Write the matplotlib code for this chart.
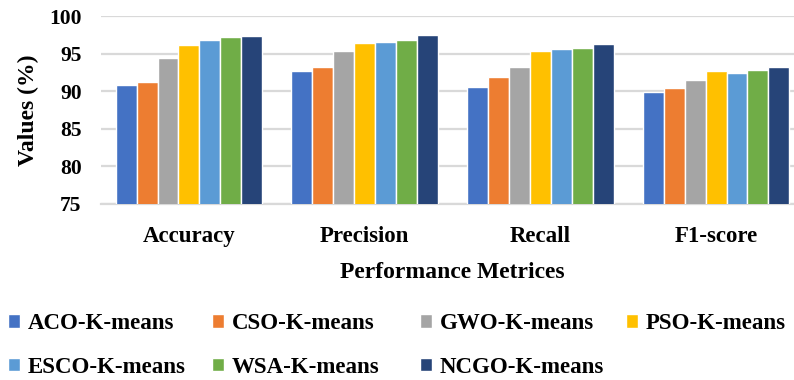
import matplotlib
matplotlib.use("Agg")
import matplotlib.pyplot as plt
import numpy as np

plt.rcParams["font.family"] = ["Liberation Serif", "DejaVu Serif"]
plt.rcParams["font.weight"] = "bold"

metrics = ["Accuracy", "Precision", "Recall", "F1-score"]
methods = ["ACO-K-means", "CSO-K-means", "GWO-K-means", "PSO-K-means",
           "ESCO-K-means", "WSA-K-means", "NCGO-K-means"]
aco = [90.8, 92.7, 90.6, 89.9]
cso = [91.3, 93.2, 91.9, 90.4]
gwo = [94.4, 95.4, 93.2, 91.5]
pso = [96.2, 96.5, 95.4, 92.7]
esco = [96.8, 96.6, 95.6, 92.5]
wsa = [97.2, 96.9, 95.8, 92.8]
ncgo = [97.4, 97.5, 96.3, 93.2]
series = [aco, cso, gwo, pso, esco, wsa, ncgo]
colors = ["#4472C4", "#ED7D31", "#A5A5A5", "#FFC000",
          "#5B9BD5", "#70AD47", "#264478"]
yticks = [75, 80, 85, 90, 95, 100]

fig = plt.figure(figsize=(7.94, 3.80), dpi=100)
# plot area runs slightly past the right edge of the canvas
ax = fig.add_axes([101 / 794, 1 - 204 / 380, 703 / 794, (204 - 16.3) / 380])

x = np.arange(len(metrics))
pitch = 0.119
bars = []
for i, (vals, col) in enumerate(zip(series, colors)):
    offs = (i - (len(series) - 1) / 2) * pitch
    b = ax.bar(x + offs, vals, width=pitch, color=col, edgecolor="white",
               linewidth=1.0, zorder=3, label=methods[i])
    bars.append(b)

ax.set_ylim(75, 100)
ax.set_xlim(-0.5, len(metrics) - 0.5)
ax.set_yticks(yticks)
ax.set_xticks(x)
ax.set_xticklabels(metrics, fontsize=16.5, fontweight="bold")
ax.set_yticklabels([str(t) for t in yticks], fontsize=15.5, fontweight="bold")
ax.tick_params(axis="both", length=0)
ax.tick_params(axis="y", pad=14)
ax.tick_params(axis="x", pad=16)
ax.grid(axis="y", color="#d9d9d9", linewidth=1.6, zorder=0)
for s in ["left", "right", "top"]:
    ax.spines[s].set_visible(False)
ax.spines["bottom"].set_color("#d9d9d9")
ax.spines["bottom"].set_linewidth(1.6)

ax.set_xlabel("Performance Metrices", fontsize=17, fontweight="bold", labelpad=11)
ax.set_ylabel("Values (%)", fontsize=17, fontweight="bold", labelpad=7)

# Legend laid out as equal-width columns, filled row by row
col_x = [8 / 794, 212 / 794, 420 / 794, 626 / 794]
columns = [[0, 4], [1, 5], [2, 6], [3]]
for cx, idx in zip(col_x, columns):
    fig.legend([bars[k] for k in idx], [methods[k] for k in idx],
               loc="upper left", bbox_to_anchor=(cx, 1 - 313 / 380),
               frameon=False, ncol=1, prop={"size": 16.5, "weight": "bold"},
               handlelength=0.52, handleheight=0.52, handletextpad=0.33,
               borderpad=0, borderaxespad=0, labelspacing=1.0)

fig.savefig("out.png", dpi=100)
